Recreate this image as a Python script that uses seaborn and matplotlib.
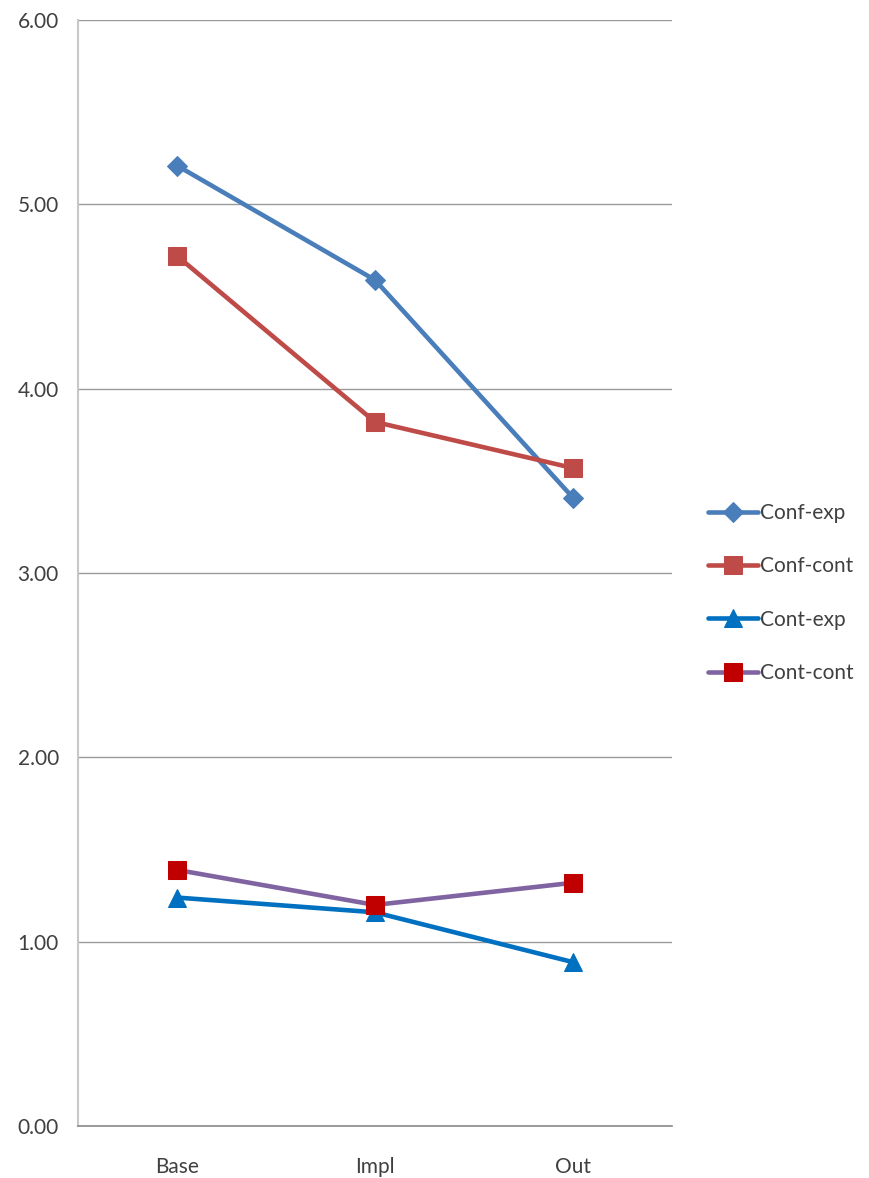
import numpy as np
import pandas as pd
import matplotlib
import matplotlib.pyplot as plt
import seaborn as sns

matplotlib.use('Agg')

# data
phases = ["Base", "Impl", "Out"]
conf_exp = [5.21, 4.59, 3.41]
conf_cont = [4.72, 3.82, 3.57]
cont_exp = [1.24, 1.16, 0.89]
cont_cont = [1.39, 1.20, 1.32]

sns.set_style("white")
plt.rcParams['font.family'] = ['Lato', 'DejaVu Sans']

fig = plt.figure(figsize=(8.69, 11.78), dpi=100)
ax = fig.add_axes([0.09, 0.044, 0.683, 0.939])

pos = np.arange(len(phases))
series = [
    ("Conf-exp", conf_exp, "#4A7EBB", "#4A7EBB", "D", 10),
    ("Conf-cont", conf_cont, "#BE4B48", "#BE4B48", "s", 13),
    ("Cont-exp", cont_exp, "#0070C0", "#0070C0", "^", 13),
    ("Cont-cont", cont_cont, "#8064A2", "#C00000", "s", 13),
]
for name, vals, lc, mc, mk, ms in series:
    sns.lineplot(x=pos, y=vals, ax=ax, color=lc, linewidth=3.3, marker=mk,
                 markersize=ms, markerfacecolor=mc, markeredgecolor=mc,
                 label=name)

ax.set_xlim(-0.5, 2.5)
ax.set_ylim(0, 6)
ax.set_yticks(np.arange(0, 7, 1))
ax.set_yticklabels([f"{v:.2f}" for v in np.arange(0, 7, 1)])
ax.set_xticks(pos)
ax.set_xticklabels(phases)
ax.set_xticks([-0.5, 0.5, 1.5, 2.5], minor=True)
ax.tick_params(axis='x', which='major', length=0, pad=22, labelsize=15, colors='#404040')
ax.tick_params(axis='x', which='minor', length=6, color='#bfbfbf', width=1)
ax.tick_params(axis='y', length=6, color='#bfbfbf', labelsize=15, pad=8, colors='#404040')
ax.yaxis.grid(True, color='#9a9a9a', linewidth=1)
ax.set_axisbelow(True)
for side in ['top', 'right']:
    ax.spines[side].set_visible(False)
ax.spines['left'].set_color('#c8c8c8')
ax.spines['left'].set_linewidth(1.5)
ax.spines['bottom'].set_color('#8a8a8a')
ax.spines['bottom'].set_linewidth(1.2)

leg = ax.legend(loc='center left', bbox_to_anchor=(1.03, 0.482), frameon=False,
                fontsize=15, labelspacing=1.6, handlelength=2.4,
                handletextpad=0.1, labelcolor='#404040')

fig.savefig("out.png", dpi=100)
